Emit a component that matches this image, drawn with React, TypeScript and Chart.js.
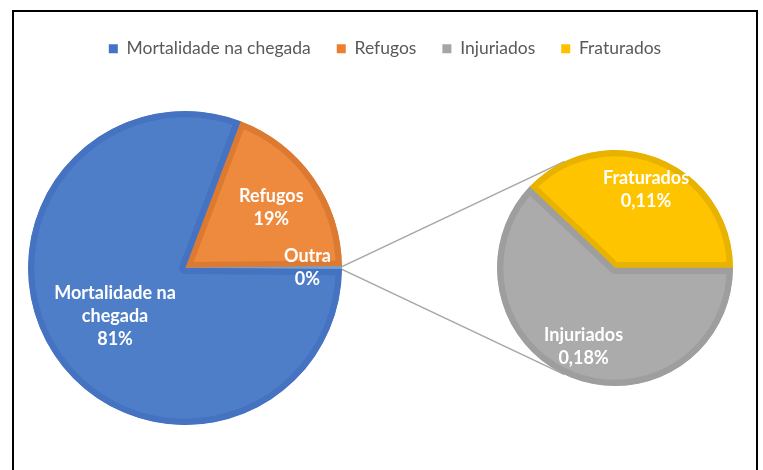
import React, { useEffect, useRef } from 'react';
import { Chart, registerables } from 'chart.js';

Chart.register(...registerables);

// ---- data ----
const mainCategories = ['Refugos', 'Outra', 'Mortalidade na chegada'];
const mainValues = [19.11, 0.29, 80.6];
const subCategories = ['Fraturados', 'Injuriados'];
const subValues = [0.11, 0.18];
const legendNames = ['Mortalidade na chegada', 'Refugos', 'Injuriados', 'Fraturados'];

// ---- styles ----
const mainFill = ['#ED8A3E', '#6FA3D8', '#4F7EC9'];
const mainEdge = ['#DC7A32', '#6FA3D8', '#4573C2'];
const subFill = ['#FFC400', '#ABABAB'];
const subEdge = ['#E8B300', '#9E9E9E'];
const legendColors = ['#4472C4', '#ED7D31', '#A5A5A5', '#FFC000'];
const mainLabelRadius = [0.67, 0.78, 0.54];
const subLabelRadius = [0.71, 0.72];
const FONT = 'Lato, "Open Sans", sans-serif';

function wrap(ctx: CanvasRenderingContext2D, text: string, maxW: number): string[] {
  const words = text.split(' ');
  const lines: string[] = [];
  let cur = '';
  for (const w of words) {
    const t = cur ? cur + ' ' + w : w;
    if (cur && ctx.measureText(t).width > maxW) {
      lines.push(cur);
      cur = w;
    } else cur = t;
  }
  if (cur) lines.push(cur);
  return lines;
}

function labelPlugin(names: string[], pcts: string[], fracs: number[]) {
  return {
    id: 'sliceLabels',
    afterDatasetsDraw(chart: any) {
      const ctx: CanvasRenderingContext2D = chart.ctx;
      const meta = chart.getDatasetMeta(0);
      ctx.save();
      ctx.font = `bold 18px ${FONT}`;
      ctx.fillStyle = '#FFFFFF';
      ctx.textAlign = 'center';
      ctx.textBaseline = 'middle';
      meta.data.forEach((arc: any, i: number) => {
        const { x, y, startAngle, endAngle, outerRadius } = arc.getProps(
          ['x', 'y', 'startAngle', 'endAngle', 'outerRadius'],
          true
        );
        const mid = (startAngle + endAngle) / 2;
        const r = outerRadius * fracs[i];
        const cx = x + Math.cos(mid) * r;
        const cy = y + Math.sin(mid) * r;
        const lines = [...wrap(ctx, names[i], 140), pcts[i]];
        const lh = 23;
        lines.forEach((ln, k) => {
          ctx.fillText(ln, cx, cy + (k - (lines.length - 1) / 2) * lh);
        });
      });
      ctx.restore();
    },
  };
}

export default function App() {
  const aRef = useRef<HTMLCanvasElement>(null);
  const bRef = useRef<HTMLCanvasElement>(null);

  useEffect(() => {
    const mainTotal = mainValues.reduce((a, b) => a + b, 0);
    const subTotal = subValues.reduce((a, b) => a + b, 0);

    const mainPct = mainValues.map((v) => `${Math.round((v / mainTotal) * 100)}%`);
    const subPct = subValues.map((v) => `${((v / mainTotal) * 100).toFixed(2).replace('.', ',')}%`);

    const subChart = new Chart(bRef.current!, {
      type: 'pie',
      data: {
        labels: subCategories,
        datasets: [
          {
            data: subValues,
            backgroundColor: subFill,
            borderColor: subEdge,
            borderWidth: 6,
            borderAlign: 'inner',
          } as any,
        ],
      },
      options: {
        responsive: false,
        animation: false,
        events: [],
        radius: 118,
        rotation: 90 - (subValues[0] / subTotal) * 360,
        plugins: { legend: { display: false }, tooltip: { enabled: false } },
      } as any,
      plugins: [labelPlugin(subCategories, subPct, subLabelRadius)],
    });

    const outraIndex = mainCategories.indexOf('Outra');
    const rotationMain =
      90 - ((mainValues[0] + mainValues[outraIndex] / 2) / mainTotal) * 360;

    const pieArea = {
      id: 'pieArea',
      afterLayout(chart: any) {
        const cx = 171, cy = 256, s = 162;
        chart.chartArea = {
          left: cx - s, right: cx + s, top: cy - s, bottom: cy + s,
          width: 2 * s, height: 2 * s,
        };
      },
    };

    const connectors = {
      id: 'connectors',
      beforeDatasetsDraw(chart: any) {
        const subArc: any = subChart.getDatasetMeta(0).data[0];
        const outra: any = chart.getDatasetMeta(0).data[outraIndex];
        if (!subArc || !outra) return;
        const aRect = chart.canvas.getBoundingClientRect();
        const bRect = subChart.canvas.getBoundingClientRect();
        const Cx = subArc.x + (bRect.left - aRect.left);
        const Cy = subArc.y + (bRect.top - aRect.top);
        const r = subArc.outerRadius;
        const R = outra.outerRadius;
        const pts = [
          { x: outra.x + Math.cos(outra.startAngle) * R, y: outra.y + Math.sin(outra.startAngle) * R, s: -1 },
          { x: outra.x + Math.cos(outra.endAngle) * R, y: outra.y + Math.sin(outra.endAngle) * R, s: 1 },
        ];
        const ctx: CanvasRenderingContext2D = chart.ctx;
        ctx.save();
        ctx.strokeStyle = '#A6A6A6';
        ctx.lineWidth = 1.5;
        pts.forEach((P) => {
          const dx = Cx - P.x, dy = Cy - P.y;
          const d = Math.hypot(dx, dy);
          const phi = Math.atan2(dy, dx);
          const alpha = Math.asin(r / d);
          const L = Math.sqrt(d * d - r * r);
          const ang = phi + P.s * alpha;
          ctx.beginPath();
          ctx.moveTo(P.x, P.y);
          ctx.lineTo(P.x + Math.cos(ang) * L, P.y + Math.sin(ang) * L);
          ctx.stroke();
        });
        ctx.restore();
      },
    };

    const mainChart = new Chart(aRef.current!, {
      type: 'pie',
      data: {
        labels: mainCategories,
        datasets: [
          {
            data: mainValues,
            backgroundColor: mainFill,
            borderColor: mainEdge,
            borderWidth: [6, 1, 6],
            borderAlign: 'inner',
          } as any,
        ],
      },
      options: {
        responsive: false,
        animation: false,
        events: [],
        radius: 157,
        rotation: rotationMain,
        layout: { padding: { top: 2 } },
        plugins: {
          tooltip: { enabled: false },
          legend: {
            display: true,
            position: 'top',
            labels: {
              font: { family: FONT, size: 17.5 },
              color: '#595959',
              boxWidth: 9,
              boxHeight: 9,
              padding: 26,
              generateLabels: () =>
                legendNames.map((n, i) => ({
                  text: n,
                  fillStyle: legendColors[i],
                  strokeStyle: legendColors[i],
                  lineWidth: 0,
                  hidden: false,
                  index: i,
                  fontColor: '#595959',
                })),
            },
          },
        },
      } as any,
      plugins: [pieArea, connectors, labelPlugin(mainCategories, mainPct, mainLabelRadius)],
    });

    return () => {
      mainChart.destroy();
      subChart.destroy();
    };
  }, []);

  return (
    <div
      style={{
        position: 'absolute',
        left: 12,
        top: 10,
        width: 742,
        height: 470,
        border: '2px solid #000',
        background: '#fff',
        overflow: 'hidden',
      }}
    >
      <canvas
        ref={aRef}
        width={742}
        height={460}
        style={{ position: 'absolute', left: 0, top: 0 }}
      />
      <canvas
        ref={bRef}
        width={260}
        height={260}
        style={{ position: 'absolute', left: 471, top: 126 }}
      />
    </div>
  );
}
